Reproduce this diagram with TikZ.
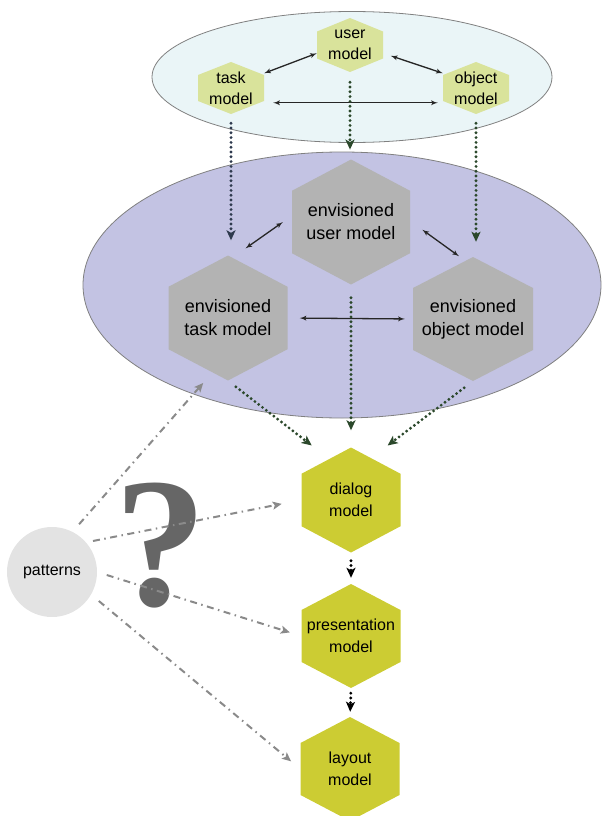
\documentclass[tikz,border=0pt]{standalone}
\usepackage{fontspec}
\setmainfont{Liberation Sans}
\newfontfamily\qmarkfont{Liberation Serif}
\usepackage{tikz}
\usetikzlibrary{arrows}
\usetikzlibrary{arrows.meta}
\usetikzlibrary{calc}
\usetikzlibrary{shapes.geometric}

\definecolor{topfill}{HTML}{EAF5F7}
\definecolor{envfill}{HTML}{C3C3E3}
\definecolor{hexlight}{HTML}{D9E39B}
\definecolor{hexgray}{HTML}{B3B3B3}
\definecolor{hexolive}{HTML}{CCCC33}
\definecolor{dotgreen}{HTML}{2B482B}
\definecolor{dotnavy}{HTML}{2E3A4E}
\definecolor{patfill}{HTML}{E3E3E3}
\definecolor{dashgray}{HTML}{8A8A8A}
\definecolor{qgray}{HTML}{666666}

\newcommand{\topfont}{\fontsize{16}{21}\selectfont}
\newcommand{\envfont}{\fontsize{18}{23}\selectfont}
\newcommand{\lowfont}{\fontsize{16}{22}\selectfont}

\tikzset{
    hexa/.style = {rectangle, inner sep = 0pt, align = center,
        path picture = {\fill[#1] (path picture bounding box.north)
            -- ($(path picture bounding box.north east)!.25!(path picture bounding box.south east)$)
            -- ($(path picture bounding box.north east)!.75!(path picture bounding box.south east)$)
            -- (path picture bounding box.south)
            -- ($(path picture bounding box.north west)!.75!(path picture bounding box.south west)$)
            -- ($(path picture bounding box.north west)!.25!(path picture bounding box.south west)$)
            -- cycle;}},
    halo/.style = {ellipse, draw = gray, line width = .8pt},
    link/.style = {latex'-latex', line width = 1.3pt, black!85},
    dotarrow/.style = {-{Stealth[length = 10pt, width = 9pt, inset = 2.5pt]},
        line width = 3.2pt, line cap = round,
        dash pattern = on 0pt off 4.8pt, #1},
    dashdot/.style = {-{Stealth[length = 9pt, width = 8pt, inset = 2pt]},
        line width = 2pt, dashgray,
        dash pattern = on 7pt off 4.5pt on 1.5pt off 4.5pt}
}

\begin{document}
\begin{tikzpicture}[x = 1pt, y = -1pt]
    \useasboundingbox (0, 0) rectangle (602, 816);

    %% halos
    \node[halo, fill = topfill, minimum width = 400pt, minimum height = 131pt]
        (tophalo) at (352, 77) {};
    \node[halo, fill = envfill, minimum width = 518pt, minimum height = 266pt]
        (envhalo) at (342, 285) {};

    %% models
    \node[hexa = hexlight, minimum width = 66pt, minimum height = 54pt, font = \topfont]
        (user) at (350, 45) {user\\model};
    \node[hexa = hexlight, minimum width = 66pt, minimum height = 52pt, font = \topfont]
        (task) at (231, 88) {task\\model};
    \node[hexa = hexlight, minimum width = 66pt, minimum height = 52pt, font = \topfont]
        (object) at (476, 88) {object\\model};

    %% envisioned models
    \node[hexa = hexgray, minimum width = 118pt, minimum height = 125pt, font = \envfont]
        (envuser) at (351, 222) {envisioned\\user model};
    \node[hexa = hexgray, minimum width = 119pt, minimum height = 125pt, font = \envfont]
        (envtask) at (228, 318) {envisioned\\task model};
    \node[hexa = hexgray, minimum width = 120pt, minimum height = 124pt, font = \envfont]
        (envobject) at (473, 319) {envisioned\\object model};

    %% ui models
    \node[hexa = hexolive, minimum width = 99pt, minimum height = 105pt, font = \lowfont]
        (dialog) at (351, 500) {dialog\\model};
    \node[hexa = hexolive, minimum width = 99pt, minimum height = 104pt, font = \lowfont]
        (present) at (351, 636) {presentation\\model};
    \node[hexa = hexolive, minimum width = 99pt, minimum height = 104pt, font = \lowfont]
        (layout) at (350, 769) {layout\\model};

    %% patterns
    \node[circle, fill = patfill, minimum size = 90pt, inner sep = 0pt, font = \topfont]
        (patterns) at (52, 572) {patterns};
    \node[text = qgray, inner sep = 0pt, font = \qmarkfont\bfseries\fontsize{185}{185}\selectfont]
        (qmark) at (161, 546) {?};

    %% links
    \draw[link] (task.24) -- (user.194);
    \draw[link, shorten < = 8pt] (user.346) -- (object.156);
    \draw[link, shorten < = 9pt, shorten > = 5pt] (task.336) -- (object.204);
    \draw[link, shorten < = 12pt, shorten > = 11pt] (envtask.83) -- (envuser.174);
    \draw[link, shorten < = 15pt, shorten > = 1pt] (envuser.1) -- (envobject.102);
    \draw[link, shorten < = 12pt, shorten > = 8pt] (envtask.east) -- (envobject.west);

    %% refinement
    \draw[dotarrow = dotnavy, shorten < = 9pt, shorten > = 15pt]
        (task.south) -- (task.south |- envtask.north);
    \draw[dotarrow = dotgreen, shorten < = 10pt, shorten > = 2pt]
        (user.south) -- (user.south |- envhalo.north);
    \draw[dotarrow = dotgreen, shorten < = 9pt, shorten > = 15pt]
        (object.south) -- (object.south |- envobject.north);
    \draw[dotarrow = dotgreen, shorten < = 10pt, shorten > = 3pt]
        (envtask.south) -- (dialog.125);
    \draw[dotarrow = dotgreen, shorten < = 13pt, shorten > = 17pt]
        (envuser.south) -- (dialog.north);
    \draw[dotarrow = dotgreen, shorten < = 11pt, shorten > = 3pt]
        (envobject.south) -- (dialog.57);
    \draw[dotarrow = black, shorten < = 8pt, shorten > = 6pt]
        (dialog.south) -- (present.north);
    \draw[dotarrow = black, shorten < = 5pt, shorten > = 5pt]
        (present.south) -- (layout.north);

    %% pattern hints
    \draw[dashdot, shorten < = 10pt, shorten > = 3pt] (patterns.63) -- (envtask.250);
    \draw[dashdot, shorten < = 7pt, shorten > = 20pt] (patterns.41) -- (dialog.west);
    \draw[dashdot, shorten < = 10pt, shorten > = 12pt] (patterns.east) -- (present.west);
    \draw[dashdot, shorten < = 10pt, shorten > = 12pt] (patterns.330) -- (layout.west);
\end{tikzpicture}
\end{document}
